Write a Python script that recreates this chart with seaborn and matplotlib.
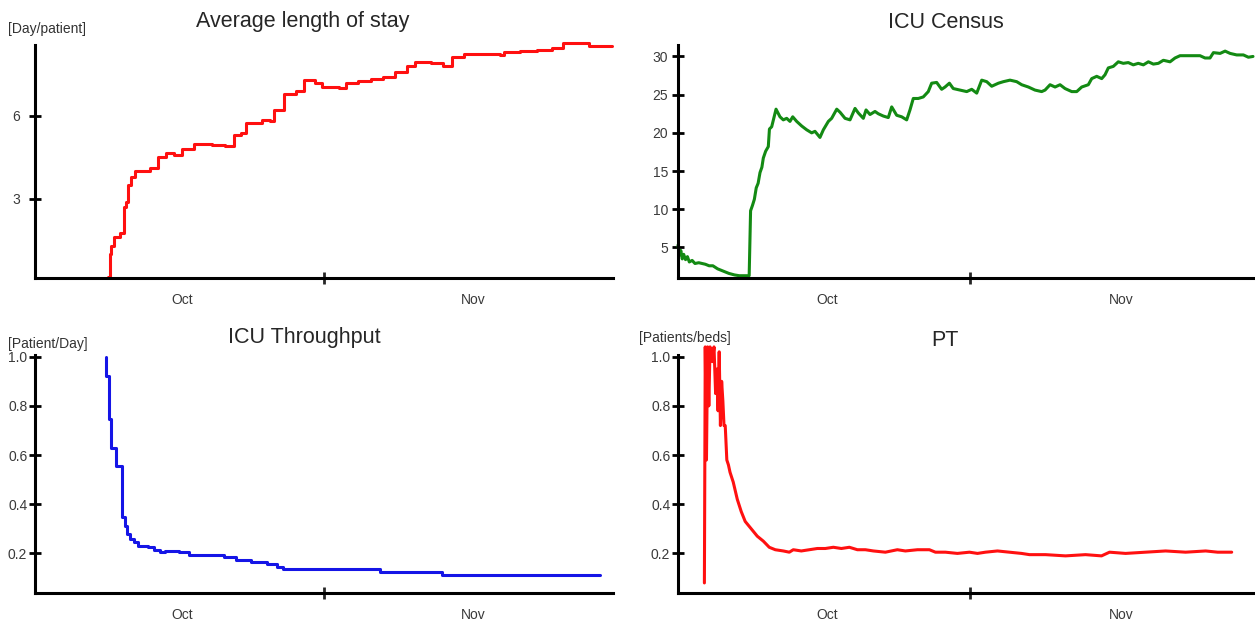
import numpy as np
import pandas as pd
import matplotlib
matplotlib.use('Agg')
import matplotlib.pyplot as plt
import seaborn as sns

# days counted from the start of the x axis (Oct | Nov split at day 31)
los_day = [7.8, 8.0, 8.2, 8.5, 9.1, 9.6, 9.8, 10.0, 10.3, 10.7, 12.3, 13.2, 14.0, 14.9, 15.8,
           17.1, 19.0, 20.4, 21.3, 22.1, 22.6, 24.3, 25.2, 25.6, 26.7, 28.0, 28.9, 30.0, 30.8,
           32.6, 33.4, 34.7, 36.0, 37.3, 38.6, 39.9, 40.8, 42.5, 43.8, 44.7, 46.0, 48.6, 49.9,
           50.3, 52.0, 53.8, 55.5, 56.6, 59.0, 59.4, 61.9]
los_val = [0.15, 1.0, 1.3, 1.6, 1.75, 2.7, 2.9, 3.5, 3.8, 4.0, 4.1, 4.5, 4.65, 4.6, 4.8,
           5.0, 4.95, 4.9, 5.3, 5.4, 5.75, 5.85, 5.8, 6.2, 6.8, 6.9, 7.3, 7.2, 7.05,
           7.0, 7.2, 7.25, 7.35, 7.4, 7.6, 7.8, 7.95, 7.9, 7.8, 8.15, 8.25, 8.25, 8.2,
           8.3, 8.35, 8.4, 8.45, 8.65, 8.65, 8.55, 8.55]

census_day = [0.0, 0.15, 0.3, 0.45, 0.6, 0.8, 1.0, 1.2, 1.5, 1.8, 2.2, 2.9, 3.3, 3.7, 4.2,
              4.6, 5.0, 5.4, 6.0, 6.5, 7.55, 7.6, 7.7, 7.9, 8.1, 8.3, 8.5, 8.7, 8.9,
              9.05, 9.3, 9.58, 9.7, 9.94, 10.4, 10.82, 11.17, 11.53, 11.88, 12.17, 12.59,
              13.12, 13.65, 14.18, 14.53, 15.06, 15.42, 15.95, 16.3, 16.84, 17.19, 17.72,
              18.25, 18.78, 19.13, 19.66, 19.95, 20.37, 20.9, 21.25, 21.78, 22.31, 22.67,
              23.2, 23.73, 24.26, 24.61, 24.96, 25.49, 26.02, 26.55, 26.91, 27.44, 27.97,
              28.33, 28.79, 29.2, 29.92, 30.63, 31.16, 31.69, 32.22, 32.75, 33.28, 33.99,
              34.52, 35.22, 35.93, 36.46, 37.17, 37.87, 38.58, 38.94, 39.47, 40.0, 40.53,
              41.06, 41.77, 42.3, 42.83, 43.53, 43.89, 44.42, 44.95, 45.3, 45.65, 46.18,
              46.71, 47.24, 47.77, 48.3, 48.83, 49.37, 49.9, 50.43, 50.96, 51.49, 52.2,
              52.73, 53.26, 54.32, 55.38, 55.91, 56.44, 56.8, 57.51, 58.04, 58.57, 59.27,
              59.98, 60.51, 61.0]
census_val = [5.3, 4.0, 4.6, 3.5, 4.1, 3.4, 3.8, 3.1, 3.3, 2.9, 3.0, 2.8, 2.6, 2.6, 2.2,
              2.0, 1.8, 1.6, 1.4, 1.3, 1.3, 4.2, 9.8, 10.5, 11.3, 12.8, 13.4, 14.8, 15.5,
              16.7, 17.6, 18.2, 20.5, 20.8, 23.1, 22.1, 21.7, 21.9, 21.5, 22.1, 21.5,
              20.9, 20.4, 20.0, 20.2, 19.4, 20.4, 21.5, 21.9, 23.1, 22.7, 21.9,
              21.7, 23.2, 22.6, 21.9, 23.0, 22.4, 22.8, 22.5, 22.2, 22.0, 23.4,
              22.3, 22.1, 21.7, 23.0, 24.5, 24.5, 24.7, 25.4, 26.5, 26.6, 25.7,
              26.0, 26.5, 25.8, 25.6, 25.4, 25.7, 25.2, 26.9, 26.7, 26.1, 26.5,
              26.7, 26.9, 26.7, 26.3, 26.0, 25.6, 25.4, 25.6, 26.3, 26.0, 26.3,
              25.8, 25.4, 25.4, 26.0, 26.3, 27.1, 27.4, 27.1, 27.6, 28.5, 28.7,
              29.3, 29.1, 29.2, 28.9, 29.1, 28.9, 29.3, 29.0, 29.1, 29.5, 29.3,
              29.8, 30.1, 30.1, 30.1, 29.8, 29.8, 30.5, 30.4, 30.7, 30.4, 30.2,
              30.2, 29.9, 30.0]

tp_day = [7.6, 7.65, 7.9, 8.2, 8.7, 9.3, 9.7, 9.9, 10.2, 10.6, 11.0, 12.1, 12.8, 13.4, 13.9,
          15.4, 16.5, 20.3, 21.6, 23.2, 24.9, 26.0, 26.6, 37.0, 43.7, 60.6]
tp_val = [1.0, 0.92, 0.745, 0.63, 0.555, 0.35, 0.31, 0.28, 0.26, 0.245, 0.23, 0.225, 0.215,
          0.205, 0.21, 0.205, 0.195, 0.185, 0.175, 0.165, 0.155, 0.145, 0.135, 0.125, 0.113, 0.113]

pt_day = [2.80, 2.89, 3.02, 3.14, 3.27, 3.40, 3.65, 3.82, 3.99, 4.12, 4.25, 4.37, 4.50, 4.63,
          4.76, 4.88, 5.01, 5.18, 5.35, 5.52, 5.86, 6.29, 6.71, 7.13, 7.77, 8.41, 9.05, 9.68,
          10.32, 11.17, 11.81, 12.23, 13.08, 13.93, 14.78, 15.63, 16.48, 17.33, 18.18, 19.03,
          19.88, 20.73, 22.0, 23.27, 24.12, 25.4, 26.67, 27.31, 28.37, 29.64, 30.92, 31.77,
          32.62, 33.89, 35.16, 36.44, 37.29, 38.99, 41.11, 43.23, 44.93, 45.78, 47.48, 49.6,
          51.73, 53.85, 55.98, 57.25, 58.74]
pt_val = [0.08, 1.04, 0.58, 1.04, 0.80, 1.04, 0.98, 1.04, 0.85, 0.95, 0.78, 1.02, 0.72, 0.90,
          0.82, 0.72, 0.72, 0.58, 0.56, 0.53, 0.49, 0.42, 0.37, 0.33, 0.30, 0.27, 0.25, 0.225,
          0.215, 0.21, 0.205, 0.215, 0.21, 0.215, 0.22, 0.22, 0.225, 0.22, 0.225, 0.215,
          0.215, 0.21, 0.205, 0.215, 0.21, 0.215, 0.215, 0.205, 0.205, 0.20, 0.205, 0.20,
          0.205, 0.21, 0.205, 0.20, 0.195, 0.195, 0.19, 0.195, 0.19, 0.205, 0.20, 0.205,
          0.21, 0.205, 0.21, 0.205, 0.205]

month_labels = ['Oct', 'Nov']

sns.set_style('white')
plt.rcParams['font.family'] = ['Liberation Sans', 'DejaVu Sans']

W, H = 1255, 622
fig = plt.figure(figsize=(W / 100, H / 100), dpi=100)


def px_axes(l, t, r, b):
    return fig.add_axes([l / W, 1 - b / H, (r - l) / W, (b - t) / H])


def style(ax, xmax, ylim, yticks, ylabels, ypad):
    ax.set_xlim(0, xmax)
    ax.set_ylim(*ylim)
    for s in ['top', 'right']:
        ax.spines[s].set_visible(False)
    for s in ['left', 'bottom']:
        ax.spines[s].set_linewidth(2.2)
        ax.spines[s].set_color('black')
    ax.set_yticks(yticks)
    ax.set_yticklabels(ylabels)
    ax.set_xticks([31])
    ax.set_xticklabels([''])
    ax.set_xticks([15.8, 47.0], minor=True)
    ax.set_xticklabels(month_labels, minor=True)
    ax.tick_params(axis='y', direction='inout', length=9, width=2, labelsize=10, pad=ypad,
                   left=True, color='black', labelcolor='#3a3a3a')
    ax.tick_params(axis='x', which='major', direction='inout', length=8, width=2, bottom=True)
    ax.tick_params(axis='x', which='minor', length=0, labelsize=10, pad=11, labelcolor='#3a3a3a')
    ax.set_xlabel('')
    ax.set_ylabel('')


# Average length of stay
ax1 = px_axes(35, 45, 613, 278)
sns.lineplot(x=los_day, y=los_val, ax=ax1, color='#ff1010', linewidth=2.2,
             drawstyle='steps-post', estimator=None, errorbar=None, clip_on=False)
style(ax1, 62, (0.13, 8.57), [3, 6], ['3', '6'], 6)
fig.text(303 / W, 1 - 22 / H, 'Average length of stay', ha='center', va='center', fontsize=15.5)
fig.text(8 / W, 1 - 29 / H, '[Day/patient]', ha='left', va='center', fontsize=10, color='#333333')

# ICU Census
ax2 = px_axes(678, 45, 1253, 278)
sns.lineplot(x=census_day, y=census_val, ax=ax2, color='#138a13', linewidth=2.2,
             estimator=None, errorbar=None, clip_on=False)
style(ax2, 61, (1.0, 31.5), [5, 10, 15, 20, 25, 30], ['5', '10', '15', '20', '25', '30'], 2.5)
fig.text(946 / W, 1 - 22 / H, 'ICU Census', ha='center', va='center', fontsize=15.5)

# ICU Throughput
ax3 = px_axes(35, 355, 613, 593)
sns.lineplot(x=tp_day, y=tp_val, ax=ax3, color='#1515e6', linewidth=2.2,
             drawstyle='steps-post', estimator=None, errorbar=None, clip_on=False)
style(ax3, 62, (0.039, 1.007), [0.2, 0.4, 0.6, 0.8, 1.0], ['0.2', '0.4', '0.6', '0.8', '1.0'], 1)
fig.text(304 / W, 1 - 338 / H, 'ICU Throughput', ha='center', va='center', fontsize=15.5)
fig.text(8 / W, 1 - 344 / H, '[Patient/Day]', ha='left', va='center', fontsize=10, color='#333333')

# PT
ax4 = px_axes(678, 355, 1253, 593)
sns.lineplot(x=pt_day, y=pt_val, ax=ax4, color='#ff1010', linewidth=2.2,
             estimator=None, errorbar=None, clip_on=False)
style(ax4, 61, (0.039, 1.007), [0.2, 0.4, 0.6, 0.8, 1.0], ['0.2', '0.4', '0.6', '0.8', '1.0'], 1)
fig.text(945 / W, 1 - 340 / H, 'PT', ha='center', va='center', fontsize=15.5)
fig.text(639 / W, 1 - 338 / H, '[Patients/beds]', ha='left', va='center', fontsize=10, color='#333333')

fig.savefig('out.png', dpi=100)
